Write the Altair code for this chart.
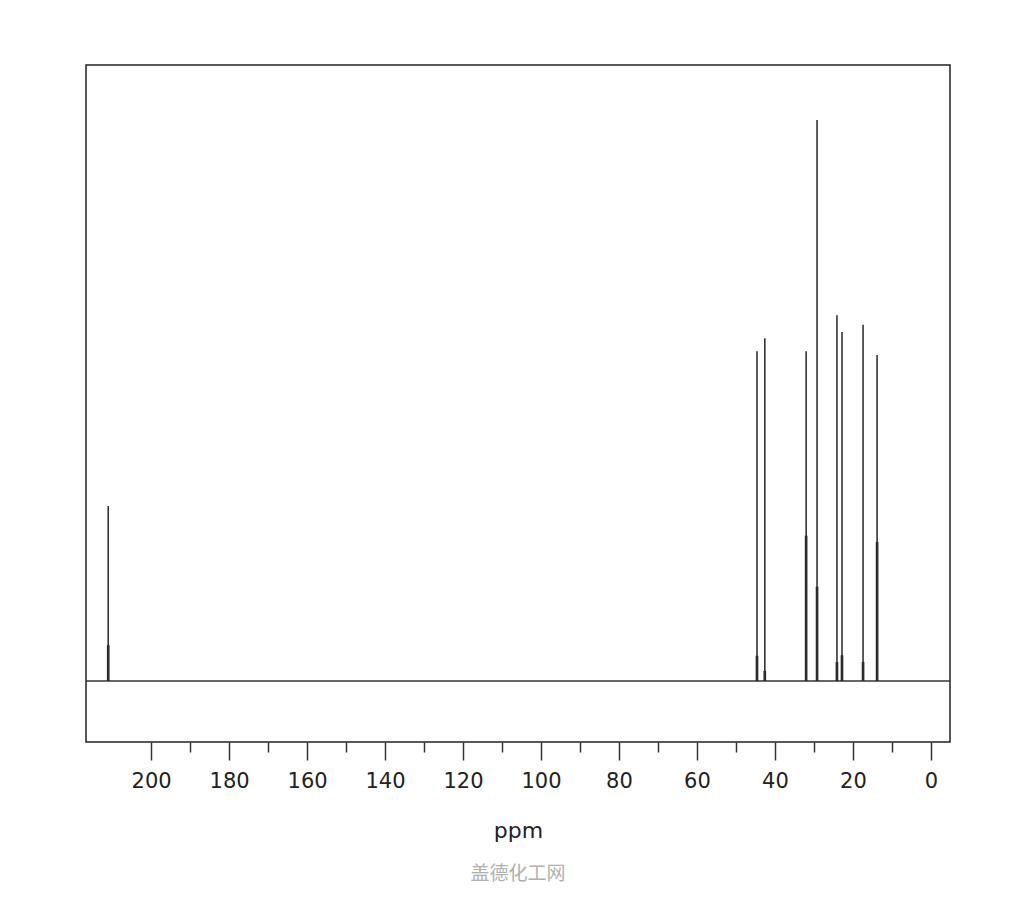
import altair as alt
import pandas as pd

# Peak positions (ppm), heights (relative intensity) and the heavier lower part of each peak
peak_ppm = [211.0, 44.6, 42.6, 32.0, 29.2, 24.1, 22.8, 17.4, 13.8]
peak_int = [31.2, 58.8, 61.1, 58.8, 100.0, 65.2, 62.2, 63.5, 58.1]
shoulder_int = [6.4, 4.5, 1.8, 25.9, 16.8, 3.4, 4.6, 3.4, 24.8]
tick_values = list(range(0, 201, 10))
x_domain = [216.7, -4.9]
y_domain = [-10.87, 109.8]

peaks = pd.DataFrame({"ppm": peak_ppm, "h": peak_int, "s": shoulder_int, "base": [0.0] * len(peak_ppm)})
baseline = pd.DataFrame({"v": [0.0]})

xs = alt.Scale(domain=x_domain, nice=False, zero=False)
ys = alt.Scale(domain=y_domain, nice=False, zero=False)

x_axis = alt.Axis(
    values=tick_values,
    title="ppm",
    labelExpr="datum.value % 20 == 0 ? datum.label : ''",
    tickSize={"condition": {"test": "datum.value % 20 == 0", "value": 18}, "value": 10},
    tickColor="#333333",
    tickWidth=1.5,
    domain=False,
    grid=False,
    labelFont="DejaVu Sans",
    labelFontSize=21,
    labelColor="#222222",
    labelPadding=10,
    titleFont="DejaVu Sans",
    titleFontSize=22,
    titleFontWeight="normal",
    titleColor="#222222",
    titlePadding=29,
)

base_line = alt.Chart(baseline).mark_rule(color="#333333", strokeWidth=1.5).encode(
    y=alt.Y("v:Q", scale=ys, axis=None)
)

peak_lines = alt.Chart(peaks).mark_rule(color="#333333", strokeWidth=1.6).encode(
    x=alt.X("ppm:Q", scale=xs, axis=x_axis),
    y=alt.Y("base:Q", scale=ys, axis=None),
    y2="h:Q",
)

shoulders = alt.Chart(peaks).mark_rule(color="#111111", strokeWidth=2.6).encode(
    x=alt.X("ppm:Q", scale=xs),
    y=alt.Y("base:Q", scale=ys, axis=None),
    y2="s:Q",
)

chart = (
    alt.layer(base_line, shoulders, peak_lines)
    .properties(
        width=864,
        height=677,
        padding={"left": 78, "top": 57, "right": 40, "bottom": 150},
        autosize=alt.AutoSizeParams(type="none"),
        title=alt.TitleParams(
            "盖德化工网",
            orient="bottom",
            anchor="middle",
            font="Noto Sans CJK SC",
            fontSize=19,
            fontWeight="normal",
            color="#b0b0b0",
            offset=24,
        ),
    )
    .configure(background="white")
    .configure_view(stroke="#222222", strokeWidth=1.5)
)

chart.save("out.html", embed_options={"renderer": "svg", "actions": False})
